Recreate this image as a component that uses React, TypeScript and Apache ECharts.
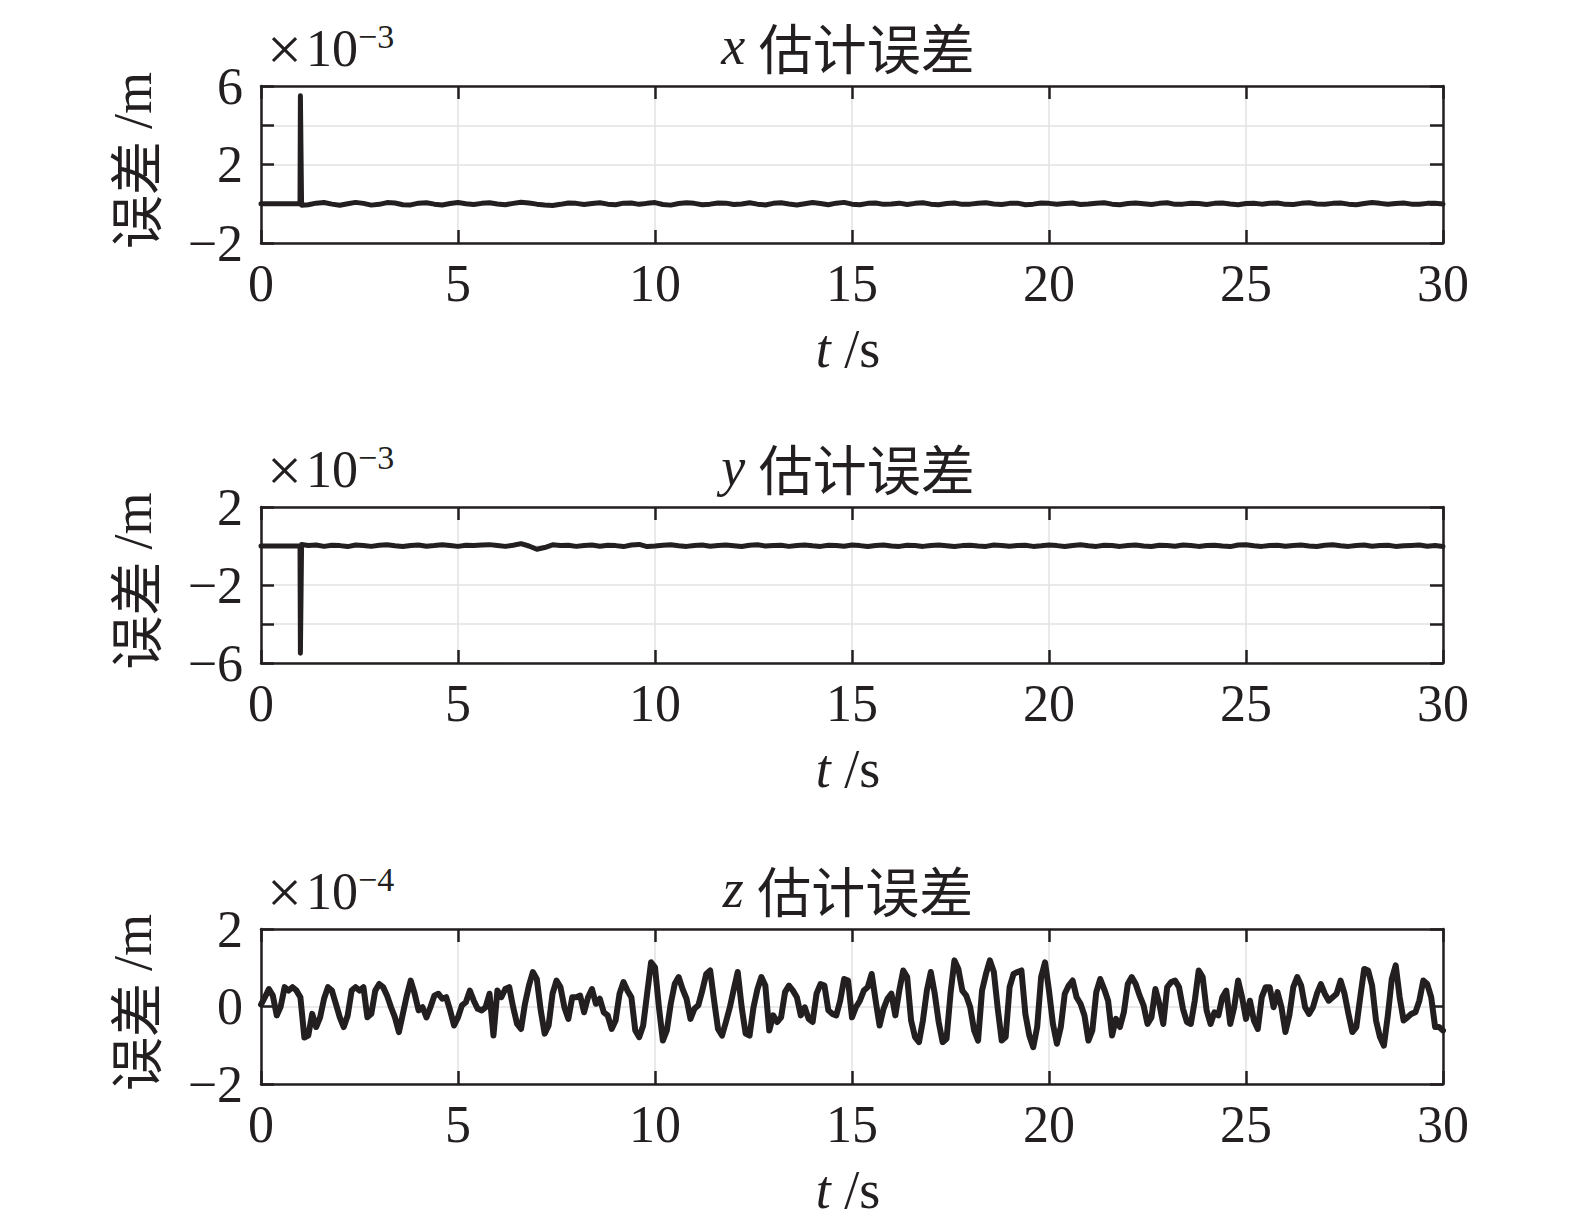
import React, { useEffect, useRef } from 'react';
import * as echarts from 'echarts';

// ---------------- data ----------------
const X_MIN = 0;
const X_MAX = 30;
const SPIKE_T = 1.0;

// x estimate error (×10^-3 m)
const X_SPIKE = 5.5;
// after the spike, t = 1.2 … 30 s, step 0.2 s
const X_WIGGLE = [
  -0.05, 0.03, 0.06, -0.02, -0.08, 0.0, 0.07, 0.02, -0.07, -0.03,
  0.06, 0.04, -0.05, -0.06, 0.03, 0.05, -0.02, -0.06, 0.01, 0.06,
  0.0, -0.04, 0.02, 0.05, -0.01, -0.05, 0.02, 0.08, 0.04, -0.02,
  -0.06, -0.09, -0.03, 0.04, 0.02, -0.04, 0.01, 0.05, -0.02, -0.05,
  0.03, 0.04, -0.03, 0.02, 0.06, -0.04, -0.07, 0.01, 0.05, 0.02,
  -0.05, -0.02, 0.04, 0.03, -0.04, -0.01, 0.05, -0.02, -0.06, 0.02,
  0.05, -0.01, -0.06, 0.0, 0.06, 0.01, -0.05, 0.03, 0.07, -0.02,
  -0.05, 0.02, 0.04, -0.03, -0.01, 0.03, -0.04, 0.02, 0.05, -0.02,
  -0.05, 0.01, 0.04, -0.03, -0.02, 0.03, 0.05, -0.01, -0.04, 0.02,
  0.03, -0.05, -0.02, 0.04, 0.02, -0.03, 0.01, 0.04, -0.04, -0.01,
  0.03, 0.05, -0.02, -0.05, 0.01, 0.04, 0.0, -0.04, 0.02, 0.05,
  -0.03, -0.02, 0.03, 0.01, -0.04, 0.02, 0.04, -0.01, -0.05, 0.01,
  0.03, -0.02, 0.02, 0.04, -0.03, -0.04, 0.02, 0.05, -0.01, -0.03,
  0.02, 0.04, -0.02, -0.05, 0.01, 0.06, 0.02, -0.03, 0.01, 0.04,
  -0.02, -0.03, 0.02, 0.03, -0.01,
];

// y estimate error (×10^-3 m)
const Y_SPIKE = -5.5;
const Y_WIGGLE = [
  0.03, 0.05, -0.02, 0.04, 0.02, -0.03, 0.05, 0.03, -0.02, 0.04,
  0.06, 0.01, -0.03, 0.03, 0.05, -0.01, 0.02, 0.06, 0.03, -0.02,
  0.04, 0.02, 0.05, 0.07, 0.03, -0.02, 0.04, 0.12, 0.0, -0.17,
  -0.08, 0.06, 0.02, 0.04, -0.02, 0.03, 0.05, -0.01, 0.04, 0.02,
  -0.03, 0.05, 0.08, -0.03, 0.0, 0.04, 0.06, 0.01, -0.02, 0.03,
  0.05, -0.01, 0.02, 0.05, 0.01, -0.03, 0.04, 0.06, 0.0, 0.02,
  0.04, -0.02, 0.03, 0.05, 0.01, -0.02, 0.04, 0.03, -0.01, 0.05,
  0.02, -0.03, 0.03, 0.05, 0.0, -0.02, 0.04, 0.02, -0.02, 0.03,
  0.05, 0.01, -0.03, 0.02, 0.04, 0.0, -0.02, 0.05, 0.03, -0.01,
  0.02, 0.04, -0.02, 0.01, 0.05, 0.02, -0.03, 0.03, 0.06, 0.01,
  -0.02, 0.04, 0.02, -0.02, 0.03, 0.05, 0.0, -0.03, 0.04, 0.02,
  -0.01, 0.05, 0.03, -0.02, 0.02, 0.04, 0.0, -0.03, 0.05, 0.06,
  0.01, -0.02, 0.03, 0.04, -0.01, 0.02, 0.05, 0.0, -0.03, 0.04,
  0.06, 0.01, -0.02, 0.03, 0.05, -0.01, 0.02, 0.04, -0.02, 0.01,
  0.03, 0.05, -0.01, 0.02, -0.02,
];

// z estimate error (×10^-4 m), t = 0 … 30 s, step 0.1 s
const Z_ERR = [
  0.05, 0.24, 0.45, 0.28, -0.23, 0.0, 0.5, 0.41, 0.5, 0.41,
  0.24, -0.8, -0.75, -0.19, -0.53, -0.28, 0.2, 0.5, 0.41, 0.07,
  -0.28, -0.53, -0.23, 0.41, 0.5, 0.41, 0.5, -0.28, -0.19, 0.41,
  0.58, 0.5, 0.28, -0.02, -0.28, -0.66, -0.19, 0.28, 0.67, 0.33,
  -0.1, -0.02, -0.28, -0.02, 0.28, 0.33, 0.2, 0.24, -0.1, -0.49,
  -0.28, 0.03, 0.11, 0.41, 0.15, -0.06, -0.1, -0.02, 0.33, -0.75,
  0.41, 0.24, 0.45, 0.5, -0.02, -0.45, -0.58, 0.07, 0.54, 0.89,
  0.71, -0.1, -0.7, -0.49, 0.33, 0.67, 0.5, -0.02, -0.32, 0.24,
  0.24, 0.28, -0.15, 0.24, 0.45, 0.07, 0.2, -0.15, -0.23, -0.58,
  -0.36, 0.33, 0.63, 0.41, 0.24, -0.62, -0.79, -0.49, 0.33, 1.14,
  1.01, -0.02, -0.88, -0.62, 0.07, 0.58, 0.76, 0.45, 0.2, -0.32,
  -0.06, 0.03, 0.41, 0.84, 0.93, 0.15, -0.58, -0.75, -0.4, -0.02,
  0.45, 0.89, -0.02, -0.7, -0.75, -0.02, 0.45, 0.76, 0.54, -0.62,
  -0.23, -0.4, -0.28, 0.37, 0.54, 0.41, 0.24, -0.23, -0.02, -0.32,
  -0.4, 0.33, 0.58, 0.54, -0.1, -0.19, -0.23, 0.15, 0.71, 0.67,
  -0.28, -0.02, 0.15, 0.41, 0.5, 0.84, 0.15, -0.49, -0.06, 0.2,
  0.33, -0.23, 0.41, 0.93, 0.76, -0.36, -0.79, -0.92, -0.36, 0.41,
  0.89, 0.33, -0.4, -0.92, -0.83, 0.33, 1.19, 0.97, 0.41, 0.28,
  -0.02, -0.62, -0.88, 0.41, 0.84, 1.19, 0.89, -0.06, -0.88, -0.79,
  0.5, 0.84, 0.89, 0.93, -0.19, -0.75, -1.05, -0.53, 0.76, 1.14,
  0.41, -0.45, -0.96, -0.53, 0.33, 0.54, 0.67, 0.24, 0.07, -0.23,
  -0.88, -0.62, 0.37, 0.71, 0.45, 0.15, -0.75, -0.32, -0.53, -0.15,
  0.58, 0.76, 0.58, 0.28, 0.03, -0.45, -0.28, 0.45, 0.07, -0.45,
  0.5, 0.63, 0.67, 0.5, -0.06, -0.4, -0.45, 0.15, 0.93, 0.76,
  -0.1, -0.45, -0.15, -0.23, 0.24, 0.41, -0.45, -0.02, 0.67, 0.24,
  -0.32, 0.15, -0.36, -0.58, 0.24, 0.5, 0.5, -0.02, 0.37, -0.02,
  -0.66, -0.23, 0.5, 0.76, 0.54, -0.02, -0.19, -0.02, 0.33, 0.58,
  0.33, 0.15, 0.24, 0.33, 0.67, 0.33, -0.19, -0.66, -0.53, 0.24,
  0.97, 0.93, 0.54, -0.36, -0.79, -1.01, -0.23, 0.71, 1.06, 0.24,
  -0.36, -0.28, -0.19, -0.15, 0.15, 0.67, 0.58, 0.24, -0.53, -0.53,
  -0.62,
];

const PANEL_NAMES = ['x', 'y', 'z'];
const PANEL_EXPONENTS = ['\u22123', '\u22123', '\u22124'];
const Y_MINS = [-2, -6, -2];
const Y_MAXS = [6, 2, 2];
const Y_TICK_STEP = [2, 2, 2];
const Y_LABEL_STEP = [4, 4, 2];

// ---------------- series building ----------------
function wiggleSeries(spike: number, wiggle: number[]): number[][] {
  const pts: number[][] = [
    [X_MIN, 0],
    [SPIKE_T - 0.01, 0],
    [SPIKE_T, spike],
    [SPIKE_T + 0.03, -Math.sign(spike) * 0.08],
  ];
  const n = wiggle.length;
  const t0 = SPIKE_T + 0.2;
  const step = (X_MAX - t0) / (n - 1);
  wiggle.forEach((v, i) => pts.push([t0 + i * step, v]));
  return pts;
}

function zSeries(): number[][] {
  const n = Z_ERR.length;
  const step = (X_MAX - X_MIN) / (n - 1);
  return Z_ERR.map((v, i) => [X_MIN + i * step, v]);
}

// ---------------- style / layout ----------------
const INK = '#231f20';
const GRIDC = '#e2e2e2';
const SERIF = '"Liberation Serif", "DejaVu Serif", serif';
const CJK = '"Noto Sans CJK SC", sans-serif';
const NB = '\u00a0';

const G_LEFT = 261;
const G_WIDTH = 1182;
const G_TOPS = [86, 507, 929];
const G_HEIGHTS = [157, 156, 155];

function fmt(v: number): string {
  return v < 0 ? '\u2212' + Math.abs(v) : String(v);
}

function App() {
  const ref = useRef<HTMLDivElement>(null);

  useEffect(() => {
    if (!ref.current) return;
    const chart = echarts.init(ref.current, undefined, { renderer: 'svg' });

    const grids: any[] = [];
    const xAxes: any[] = [];
    const yAxes: any[] = [];
    const series: any[] = [];
    const graphics: any[] = [];

    const datasets = [
      wiggleSeries(X_SPIKE, X_WIGGLE),
      wiggleSeries(Y_SPIKE, Y_WIGGLE),
      zSeries(),
    ];

    const axisLine = { show: true, onZero: false, lineStyle: { color: INK, width: 2.5 } };
    const axisTick = { show: true, inside: true, length: 13, lineStyle: { color: INK, width: 2.5 } };

    for (let i = 0; i < 3; i++) {
      const top = G_TOPS[i];
      const h = G_HEIGHTS[i];
      grids.push({ left: G_LEFT, width: G_WIDTH, top, height: h, containLabel: false });

      const ymin = Y_MINS[i];
      const ymax = Y_MAXS[i];
      const lstep = Y_LABEL_STEP[i];

      xAxes.push({
        type: 'value', gridIndex: i, position: 'bottom', min: X_MIN, max: X_MAX, interval: 5,
        axisLine, axisTick,
        axisLabel: { color: INK, fontFamily: SERIF, fontSize: 52, margin: 14 },
        splitLine: { show: true, lineStyle: { color: GRIDC, width: 1.5 } },
      });
      xAxes.push({
        type: 'value', gridIndex: i, position: 'top', min: X_MIN, max: X_MAX, interval: 5,
        axisLine, axisTick, axisLabel: { show: false }, splitLine: { show: false },
      });
      yAxes.push({
        type: 'value', gridIndex: i, position: 'left', min: ymin, max: ymax, interval: Y_TICK_STEP[i],
        axisLine, axisTick,
        axisLabel: {
          color: INK, fontFamily: SERIF, fontSize: 52, margin: 18,
          formatter: (v: number) => (Math.abs((v - ymin) % lstep) < 1e-9 ? fmt(v) : ''),
        },
        splitLine: { show: true, lineStyle: { color: GRIDC, width: 1.5 } },
      });
      yAxes.push({
        type: 'value', gridIndex: i, position: 'right', min: ymin, max: ymax, interval: Y_TICK_STEP[i],
        axisLine, axisTick, axisLabel: { show: false }, splitLine: { show: false },
      });

      series.push({
        type: 'line',
        xAxisIndex: i * 2,
        yAxisIndex: i * 2,
        data: datasets[i],
        showSymbol: false,
        symbol: 'none',
        lineStyle: { color: INK, width: i === 2 ? 6 : 5, join: 'round', cap: 'round' },
        z: 3,
      });

      const titleY = top - 40;
      graphics.push({
        type: 'text', x: G_LEFT + G_WIDTH / 2 - 4, y: titleY,
        style: {
          text: `{i|${PANEL_NAMES[i]}${NB}}{c|估计误差}`,
          align: 'center', verticalAlign: 'middle',
          rich: {
            i: { fontFamily: SERIF, fontStyle: 'italic', fontSize: 54, fill: INK },
            c: { fontFamily: CJK, fontSize: 54, fill: INK },
          },
        },
      });
      graphics.push({
        type: 'text', x: 267, y: titleY + 3,
        style: { text: '\u00d7', fontFamily: SERIF, fontSize: 62, fill: INK, align: 'left', verticalAlign: 'middle' },
      });
      graphics.push({
        type: 'text', x: 306, y: titleY + 2,
        style: { text: '10', fontFamily: SERIF, fontSize: 52, fill: INK, align: 'left', verticalAlign: 'middle' },
      });
      graphics.push({
        type: 'text', x: 358, y: titleY - 10,
        style: { text: PANEL_EXPONENTS[i], fontFamily: SERIF, fontSize: 34, fill: INK, align: 'left', verticalAlign: 'middle' },
      });
      graphics.push({
        type: 'text', x: 133, y: top + h / 2 - 4, rotation: Math.PI / 2,
        style: {
          text: `{c|误差${NB}}{e|/m}`,
          align: 'center', verticalAlign: 'middle',
          rich: {
            c: { fontFamily: CJK, fontSize: 54, fill: INK },
            e: { fontFamily: SERIF, fontSize: 54, fill: INK },
          },
        },
      });
      graphics.push({
        type: 'text', x: G_LEFT + G_WIDTH / 2 - 4, y: top + h + 106,
        style: {
          text: `{i|t${NB}}{e|/s}`,
          align: 'center', verticalAlign: 'middle',
          rich: {
            i: { fontFamily: SERIF, fontStyle: 'italic', fontSize: 54, fill: INK },
            e: { fontFamily: SERIF, fontSize: 54, fill: INK },
          },
        },
      });
    }

    chart.setOption({
      animation: false,
      backgroundColor: '#ffffff',
      grid: grids,
      xAxis: xAxes,
      yAxis: yAxes,
      series,
      graphic: graphics,
    });

    return () => chart.dispose();
  }, []);

  return (
    <div
      ref={ref}
      style={{ position: 'absolute', left: 0, top: 0, width: 1575, height: 1220, background: '#fff' }}
    />
  );
}

export default App;
